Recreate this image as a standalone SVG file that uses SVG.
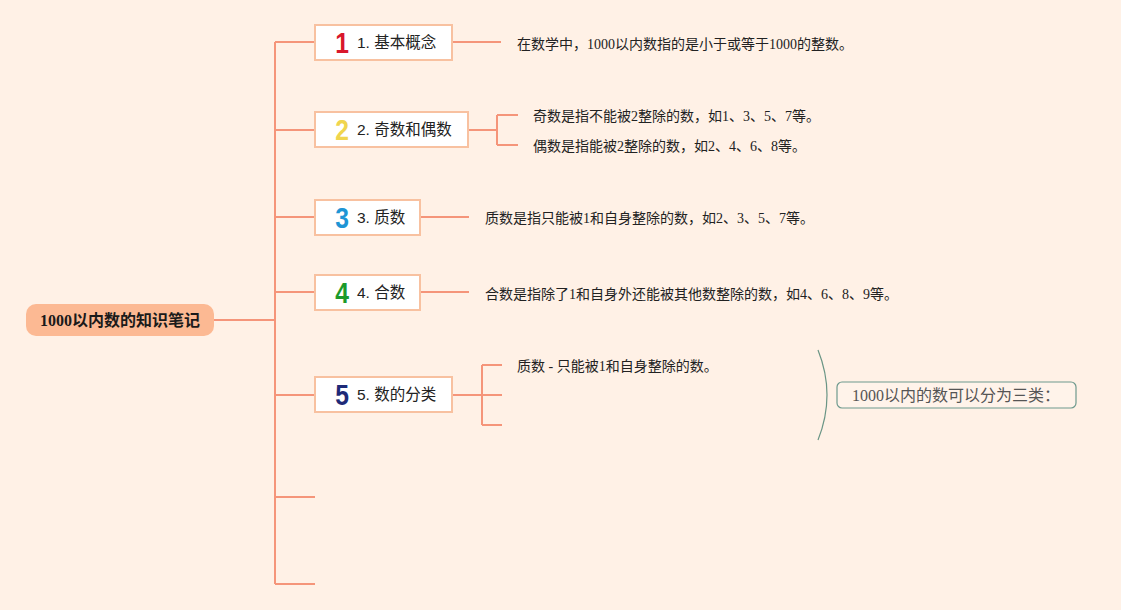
<svg xmlns="http://www.w3.org/2000/svg" width="1121" height="610" viewBox="0 0 1121 610">
<defs>
<style>
.conn{fill:none;stroke:#F5957A;stroke-width:2}
.box{fill:#FFFFFF;stroke:#F8C1A0;stroke-width:2}
.num{font-family:"Liberation Sans","DejaVu Sans",sans-serif;font-weight:bold;font-size:29px;text-anchor:middle}
.lbl{font-family:"Liberation Sans","Noto Sans CJK SC",sans-serif;font-size:15.5px;fill:#222}
.leaf{font-family:"Liberation Serif","Noto Sans CJK SC",serif;font-size:14px;fill:#222}
</style>
</defs>
<rect x="0" y="0" width="1121" height="610" fill="#FFF1E6"/>
<g id="connectors">
<path class="conn" d="M214 320H275M275 42V584M275 42H315M275 130H315M275 217H315M275 292H315M275 395H315M275 497H315M275 584H315"/>
<path class="conn" d="M452 42H501"/>
<path class="conn" d="M468 130H497M497 115V145M497 115H518M497 145H518"/>
<path class="conn" d="M420 217H469"/>
<path class="conn" d="M420 292H469"/>
<path class="conn" d="M452 395H482M482 365V425M482 365H502M482 395H502M482 425H502"/>
<path d="M818 350Q836 395 818 440" fill="none" stroke="#6A9585" stroke-width="1.2"/>
</g>
<g id="root">
<rect x="26" y="304" width="188" height="32" rx="10" fill="#FCB993"/>
<text x="120" y="326" text-anchor="middle" font-family="Liberation Serif,Noto Sans CJK SC,serif" font-weight="bold" font-size="16" fill="#1a1a1a">1000以内数的知识笔记</text>
</g>
<g id="node1">
<rect class="box" x="315" y="25" width="137" height="35"/>
<text class="num" transform="translate(342 53) scale(0.85 1)" fill="#D9172B">1</text>
<text class="lbl" x="357" y="48">1. 基本概念</text>
</g>
<g id="leaf1"><text class="leaf" x="517" y="49">在数学中，1000以内数指的是小于或等于1000的整数。</text></g>
<g id="node2">
<rect class="box" x="315" y="112" width="153" height="35"/>
<text class="num" transform="translate(342 140) scale(0.85 1)" fill="#F0D54E">2</text>
<text class="lbl" x="357" y="135">2. 奇数和偶数</text>
</g>
<g id="leaf2a"><text class="leaf" x="533" y="121">奇数是指不能被2整除的数，如1、3、5、7等。</text></g>
<g id="leaf2b"><text class="leaf" x="533" y="151">偶数是指能被2整除的数，如2、4、6、8等。</text></g>
<g id="node3">
<rect class="box" x="315" y="200" width="105" height="35"/>
<text class="num" transform="translate(342 228) scale(0.85 1)" fill="#1E95D5">3</text>
<text class="lbl" x="357" y="223">3. 质数</text>
</g>
<g id="leaf3"><text class="leaf" x="485" y="223">质数是指只能被1和自身整除的数，如2、3、5、7等。</text></g>
<g id="node4">
<rect class="box" x="315" y="275" width="105" height="35"/>
<text class="num" transform="translate(342 303) scale(0.85 1)" fill="#1B9A2B">4</text>
<text class="lbl" x="357" y="298">4. 合数</text>
</g>
<g id="leaf4"><text class="leaf" x="485" y="299">合数是指除了1和自身外还能被其他数整除的数，如4、6、8、9等。</text></g>
<g id="node5">
<rect class="box" x="315" y="377" width="137" height="35"/>
<text class="num" transform="translate(342 405) scale(0.85 1)" fill="#1E2A78">5</text>
<text class="lbl" x="357" y="400">5. 数的分类</text>
</g>
<g id="leaf5"><text class="leaf" x="517" y="371">质数 - 只能被1和自身整除的数。</text></g>
<g id="summary">
<rect x="837" y="382" width="239" height="26" rx="5" fill="#FFF3EA" stroke="#6F9A8E" stroke-width="1.2"/>
<text x="956" y="401" text-anchor="middle" font-family="Liberation Serif,Noto Sans CJK SC,serif" font-size="16" fill="#555">1000以内的数可以分为三类：</text>
</g>
</svg>
